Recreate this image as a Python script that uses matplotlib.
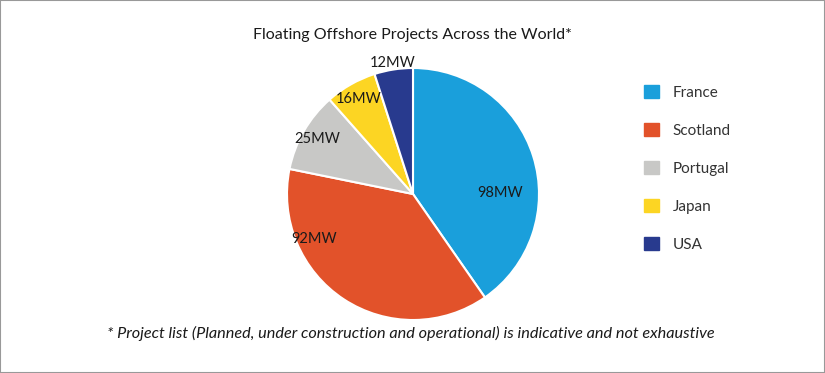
import matplotlib
matplotlib.use("Agg")
import matplotlib.pyplot as plt
import numpy as np
from matplotlib.patches import Rectangle

countries = ["France", "Scotland", "Portugal", "Japan", "USA"]
capacity_mw = [98, 92, 25, 16, 12]
colors = ["#1a9fdb", "#e2522a", "#c8c8c6", "#fcd523", "#283a8e"]

title = "Floating Offshore Projects Across the World*"
note = "* Project list (Planned, under construction and operational) is indicative and not exhaustive"

# label placement tweaks (radius, angle shift in degrees)
lab_r = [0.69, 0.86, 0.88, 0.87, 1.05]
lab_shift = [-17, -32, 0, 0, 0]

plt.rcParams['font.family'] = ['Lato', 'DejaVu Sans']

W, H = 825, 373
fig = plt.figure(figsize=(W / 100, H / 100), dpi=100)

cx, cy, rad = 413, H - 194, 126
ax = fig.add_axes([(cx - rad) / W, (cy - rad) / H, 2 * rad / W, 2 * rad / H])

wedges, _ = ax.pie(capacity_mw, colors=colors, startangle=90, counterclock=False,
                   radius=1, wedgeprops=dict(edgecolor="white", linewidth=1.5))
ax.set_xlim(-1, 1)
ax.set_ylim(-1, 1)
ax.axis("off")

for w, v, r, s in zip(wedges, capacity_mw, lab_r, lab_shift):
    ang = np.deg2rad((w.theta1 + w.theta2) / 2 + s)
    ax.text(r * np.cos(ang), r * np.sin(ang), f"{v}MW", ha="center", va="center",
            fontsize=10.5, color="#1a1a1a", clip_on=False)

fig.text(412 / W, 1 - 35 / H, title, ha="center", va="center", fontsize=11.5, color="#1a1a1a")
fig.text(411 / W, 1 - 333 / H, note, ha="center", va="center", fontsize=11.7,
         style="italic", color="#1a1a1a")

handles = [Rectangle((0, 0), 1, 1, color=c) for c in colors]
leg = fig.legend(handles, countries, loc="upper left", bbox_to_anchor=(630 / W, 1 - 71 / H),
                 frameon=False, fontsize=11, labelspacing=1.5, handlelength=1.0,
                 handleheight=1.0, handletextpad=0.9)
for t in leg.get_texts():
    t.set_color("#333333")

fig.patches.append(Rectangle((0, 0), 1, 1, transform=fig.transFigure, fill=False,
                             edgecolor="#999999", linewidth=1.5))

fig.savefig("out.png", dpi=100)
